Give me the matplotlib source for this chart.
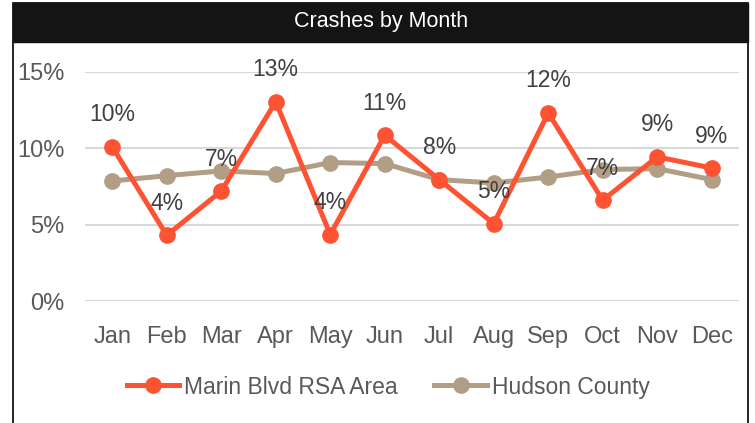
import matplotlib
matplotlib.use("Agg")
import matplotlib.pyplot as plt
from matplotlib.patches import Rectangle
from matplotlib.lines import Line2D

plt.rcParams['font.family'] = ['Liberation Sans', 'DejaVu Sans']

months = ["Jan", "Feb", "Mar", "Apr", "May", "Jun", "Jul", "Aug", "Sep", "Oct", "Nov", "Dec"]
marin = [0.101, 0.043, 0.072, 0.1305, 0.0435, 0.1086, 0.0795, 0.0507, 0.1232, 0.066, 0.0944, 0.0871]
hudson = [0.0786, 0.0821, 0.0852, 0.0835, 0.0907, 0.090, 0.0795, 0.0773, 0.0812, 0.0861, 0.0867, 0.0795]

red = "#FD5332"
tan = "#B29D85"
grey = "#595959"

fig = plt.figure(figsize=(7.55, 4.23), dpi=100)

# outer frame (bottom edge runs off the image) and title bar
fig.add_artist(Rectangle((13/755, -0.05), 735/755, 1.05 - 3/423, transform=fig.transFigure,
                         facecolor="none", edgecolor="black", lw=1.2))
fig.add_artist(Rectangle((13/755, 1 - 42/423), 735/755, 39/423, transform=fig.transFigure,
                         facecolor="#141414", edgecolor="#141414", lw=1))
fig.text(381/755, 1 - 22/423, "Crashes by Month", color="white", fontsize=15.5,
         ha="center", va="center")

ax = fig.add_axes([85/755, 1 - 301/423, 654/755, 229/423])
x = list(range(len(months)))
ax.plot(x, hudson, color=tan, lw=3.6, marker="o", ms=11, label="Hudson County", zorder=3)
ax.plot(x, marin, color=red, lw=3.6, marker="o", ms=11, label="Marin Blvd RSA Area", zorder=4)

for xi, v in zip(x, marin):
    ax.annotate(f"{round(v * 100):d}%", (xi, v), xytext=(0, 23), textcoords="offset points",
                ha="center", va="center", fontsize=16.5, color="#404040", clip_on=False, zorder=5)

ax.set_xlim(-0.5, 11.5)
ax.set_ylim(0, 0.15)
ax.set_yticks([0, 0.05, 0.10, 0.15])
ax.set_yticklabels(["0%", "5%", "10%", "15%"])
ax.set_xticks(x)
ax.set_xticklabels(months)
ax.grid(axis="y", color="#D9D9D9", lw=1.5)
ax.set_axisbelow(True)
for s in ax.spines.values():
    s.set_visible(False)
ax.tick_params(axis="both", length=0, labelsize=17, colors=grey)
ax.tick_params(axis="y", pad=15)
ax.tick_params(axis="x", pad=18)

handles = [Line2D([], [], color=red, lw=3.6, marker="o", ms=11),
           Line2D([], [], color=tan, lw=3.6, marker="o", ms=11)]
fig.legend(handles, ["Marin Blvd RSA Area", "Hudson County"], loc="center",
           bbox_to_anchor=(388/755, 1 - 387/423), ncol=2, frameon=False, fontsize=16.5,
           labelcolor=grey, handlelength=2.3, handletextpad=0.2, columnspacing=1.6)

fig.savefig("out.png", dpi=100)
